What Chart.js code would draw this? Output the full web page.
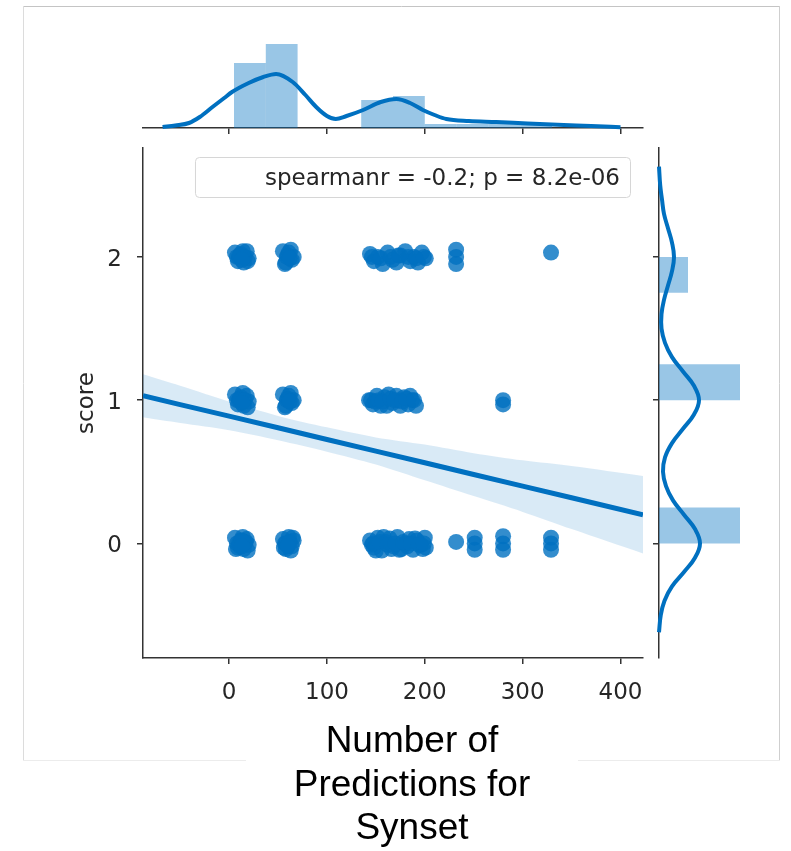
<!DOCTYPE html>
<html>
<head>
<meta charset="utf-8">
<script src="https://cdn.jsdelivr.net/npm/chart.js@4.4.0/dist/chart.umd.min.js"></script>
<style>
    html, body { margin: 0; padding: 0; background: #fff; overflow: hidden; }
    body { width: 791px; height: 851px; position: relative; }
    canvas { position: absolute; top: 0; }
    #mainChart { left: 0; }
    #topChart { left: 0; }
    #rightChart { left: 640px; }
</style>
</head>
<body>
<canvas id="mainChart" width="824" height="851"></canvas>
<canvas id="topChart" width="660" height="134"></canvas>
<canvas id="rightChart" width="151" height="851"></canvas>
<script>
const BLUE = '#0070c0';
const POINT_BLUE = 'rgba(0, 112, 192, 0.8)';
const HIST_BLUE = 'rgba(0, 112, 192, 0.4)';
const BAND_BLUE = 'rgba(0, 112, 192, 0.15)';
const AXIS = '#333333';
const TEXT = '#262626';
const FONT = "'DejaVu Sans', sans-serif";

// axes
const xRange = [-88, 423];
const yRange = [-0.80, 2.76];
const xTicks = [0, 100, 200, 300, 400];
const yTicks = [0, 1, 2];
const yTickLabels = ['0', '1', '2'];
const yTitle = 'score';
const xTitleLines = ['Number of', 'Predictions for', 'Synset'];
const statText = 'spearmanr = -0.2; p = 8.2e-06';

// scatter points (x = number of predictions, y = jittered score)
const score0X = [6, 9, 12, 15, 18, 20, 8, 14, 19, 11, 7, 17, 10, 16, 13, 13,
    55, 58, 61, 64, 66, 57, 63, 60, 56, 65, 58, 62, 60,
    144, 148, 152, 156, 160, 164, 168, 172, 176, 180, 184, 188, 192, 196, 200, 201, 150, 158, 166, 174, 182, 190, 198, 146,
    147, 154, 162, 170, 178, 186, 194, 199,
    232, 251, 251, 251, 280, 280, 280, 329, 329, 329];
const score0Y = [0.04, -0.03, 0.02, -0.04, 0.03, -0.01, 0.00, 0.045, -0.05, -0.02, -0.04, 0.01, 0.0, 0.0, 0.02, -0.02,
    0.03, -0.04, 0.045, -0.02, 0.02, 0.0, -0.05, -0.01, -0.03, 0.04, 0.0, 0.01, -0.02,
    0.02, -0.03, 0.04, -0.05, 0.01, 0.035, -0.02, 0.045, -0.04, 0.0, 0.03, -0.045, 0.02, -0.01, 0.04, -0.03, -0.05, 0.045, -0.04, -0.045, -0.02, 0.035, -0.04, -0.01,
    0.0, 0.01, -0.01, 0.0, 0.01, 0.0, -0.01, 0.0,
    0.01, 0.04, 0.0, -0.045, 0.05, 0.0, -0.045, 0.04, 0.0, -0.045];
const score1X = [6, 9, 12, 15, 18, 20, 8, 14, 19, 11, 10, 16, 13,
    55, 58, 61, 64, 66, 57, 63, 60, 59, 62,
    143, 147, 151, 155, 159, 163, 167, 171, 175, 179, 183, 187, 191, 149, 161, 173, 185,
    145, 153, 157, 165, 169, 177, 181, 189,
    280, 280];
const score1Y = [1.04, 0.97, 1.02, 0.96, 1.03, 0.99, 1.0, 1.05, 0.95, 1.01, 1.0, 1.0, 0.98,
    1.04, 0.96, 1.03, 0.98, 1.0, 0.95, 1.05, 1.01, 1.0, 0.99,
    1.0, 0.97, 1.03, 0.96, 1.02, 1.04, 0.98, 1.03, 0.96, 1.02, 0.97, 1.0, 0.96, 0.99, 0.96, 1.0, 1.03,
    1.0, 1.0, 0.99, 1.01, 1.0, 0.99, 1.01, 1.0,
    1.0, 0.97];
const score2X = [6, 9, 12, 15, 18, 20, 8, 14, 19, 11, 10, 16, 13,
    55, 58, 61, 64, 66, 57, 63, 60, 59, 62,
    144, 148, 152, 157, 162, 167, 171, 175, 180, 185, 189, 193, 197, 201,
    146, 155, 165, 173, 183, 191, 199,
    232, 232, 232, 329];
const score2Y = [2.03, 1.97, 2.02, 1.96, 2.04, 1.99, 2.0, 2.04, 1.97, 2.01, 2.0, 2.0, 1.98,
    2.04, 1.96, 2.03, 1.98, 2.0, 1.95, 2.05, 2.01, 2.0, 1.99,
    2.02, 1.97, 2.0, 1.95, 2.03, 1.98, 1.96, 2.01, 2.04, 1.97, 2.0, 1.96, 2.03, 1.99,
    2.0, 1.99, 2.0, 2.01, 2.0, 1.99, 2.0,
    2.05, 2.0, 1.95, 2.03];

// regression line and its confidence band
const regX = [-88, -50, 0, 50, 100, 150, 200, 250, 300, 350, 423];
const regY = [1.031, 0.969, 0.888, 0.807, 0.725, 0.644, 0.563, 0.481, 0.400, 0.319, 0.200];
const ciUpper = [1.18, 1.10, 0.99, 0.89, 0.81, 0.74, 0.69, 0.63, 0.58, 0.54, 0.47];
const ciLower = [0.88, 0.84, 0.79, 0.72, 0.64, 0.55, 0.44, 0.33, 0.22, 0.10, -0.07];

// top marginal: histogram + kde of x
const topBinCenters = [21.25, 53.75, 86.25, 118.75, 151.25, 183.75, 216.25, 248.75, 281.25, 313.75];
const topBinHeights = [65, 84, 0, 0, 28, 32, 4, 4, 4, 4];
const topKdeX = [-68, -55, -41, -30, -17, -5, 3, 20, 35, 48, 65, 78, 89, 100, 109, 120, 137, 155, 171, 185, 198, 210, 222, 245, 273, 305, 342, 370, 400];
const topKdeY = [1, 2.5, 5, 11, 21, 30, 36, 45, 51, 54, 46, 33, 21, 12, 9, 12, 18, 26, 29, 25, 18, 13, 9, 7, 6, 4.5, 3, 2, 0.7];

// right marginal: histogram + kde of score
const rightBinCenters = [0.125, 0.375, 0.625, 0.875, 1.125, 1.375, 1.625, 1.875];
const rightBinWidths = [81, 0, 0, 0, 81, 0, 0, 29];
const rightKdeScore = [-0.62, -0.5, -0.4, -0.3, -0.2, -0.1, 0, 0.1, 0.2, 0.3, 0.4, 0.5, 0.6, 0.7, 0.8, 0.9, 1.0, 1.1, 1.2, 1.3, 1.4, 1.5, 1.6, 1.7, 1.8, 1.9, 2.0, 2.1, 2.2, 2.3, 2.4, 2.5, 2.63];
const rightKdeWidth = [0, 1.8, 5.5, 13, 25, 36, 41, 36, 25, 14, 7, 4, 6, 13, 24, 35, 40, 35, 24, 13, 6, 2.5, 2.5, 5, 9, 13, 15, 13, 9, 5, 3, 1.2, 0];

const pts = (xs, ys) => xs.map((x, i) => ({x: x, y: ys[i]}));
const fixedTicks = values => scale => { scale.ticks = values.map(v => ({value: v})); };

const tickGrid = {display: true, drawOnChartArea: false, drawTicks: true, tickLength: 6, color: AXIS, lineWidth: 1.5, offset: false};
const spine = {display: true, color: AXIS, width: 1.5};

// light frame round the figure, open where the x title sits
const framePlugin = {
    id: 'frame',
    beforeDraw(chart) {
        const ctx = chart.ctx;
        ctx.save();
        ctx.lineWidth = 1;
        const seg = (color, x1, y1, x2, y2) => {
            ctx.strokeStyle = color;
            ctx.beginPath(); ctx.moveTo(x1, y1); ctx.lineTo(x2, y2); ctx.stroke();
        };
        seg('#c4c4c4', 23, 6.5, 780, 6.5);
        seg('#dcdcdc', 23.5, 6, 23.5, 761);
        seg('#cfcfcf', 779.5, 6, 779.5, 761);
        seg('#ececec', 23, 760.5, 246, 760.5);
        seg('#ececec', 578, 760.5, 780, 760.5);
        ctx.restore();
    }
};

// stats annotation box in the upper right of the joint axes
const statBoxPlugin = {
    id: 'statBox',
    afterDatasetsDraw(chart) {
        const {ctx, chartArea} = chart;
        ctx.save();
        ctx.font = '23px ' + FONT;
        const textW = ctx.measureText(statText).width;
        const right = chartArea.right - 13;
        const top = chartArea.top + 9;
        const textRight = right - 10;
        const left = textRight - textW - 70;
        ctx.beginPath();
        ctx.roundRect(left + 0.5, top + 0.5, right - left, 40, 4);
        ctx.fillStyle = 'rgba(255, 255, 255, 0.8)';
        ctx.fill();
        ctx.strokeStyle = '#d6d6d6';
        ctx.lineWidth = 1;
        ctx.stroke();
        ctx.fillStyle = TEXT;
        ctx.textAlign = 'right';
        ctx.textBaseline = 'alphabetic';
        ctx.fillText(statText, textRight, top + 28);
        ctx.restore();
    }
};

const scatterSet = (xs, ys) => ({
    type: 'scatter',
    data: pts(xs, ys),
    backgroundColor: POINT_BLUE,
    borderColor: POINT_BLUE,
    borderWidth: 0,
    pointRadius: 8,
    order: 1
});

new Chart(document.getElementById('mainChart'), {
    type: 'scatter',
    data: {
        datasets: [
            {type: 'line', data: pts(regX, ciUpper), borderColor: 'rgba(0,0,0,0)', borderWidth: 0, pointRadius: 0, fill: false, tension: 0.3, order: 5},
            {type: 'line', data: pts(regX, ciLower), borderColor: 'rgba(0,0,0,0)', borderWidth: 0, pointRadius: 0, fill: '-1', backgroundColor: BAND_BLUE, tension: 0.3, order: 4},
            {type: 'line', data: pts(regX, regY), borderColor: BLUE, borderWidth: 5, pointRadius: 0, fill: false, tension: 0, order: 3},
            scatterSet(score0X, score0Y),
            scatterSet(score1X, score1Y),
            scatterSet(score2X, score2Y)
        ]
    },
    options: {
        responsive: false,
        animation: false,
        events: [],
        devicePixelRatio: 1,
        layout: {padding: {top: 148, left: 0, right: 0, bottom: 0}},
        plugins: {
            legend: {display: false},
            tooltip: {enabled: false},
            title: {
                display: true,
                position: 'bottom',
                fullSize: true,
                align: 'center',
                text: xTitleLines,
                color: '#000',
                font: {family: "'Liberation Sans', Arial, sans-serif", size: 37, weight: 'normal', lineHeight: 43.5 / 37},
                padding: {top: 0, bottom: 0}
            }
        },
        scales: {
            x: {
                type: 'linear', min: xRange[0], max: xRange[1], offset: false,
                afterBuildTicks: fixedTicks(xTicks),
                afterFit: s => { s.height = 62.5; },
                grid: tickGrid,
                border: spine,
                ticks: {color: TEXT, font: {family: FONT, size: 23}, padding: 15, maxRotation: 0}
            },
            y: {
                type: 'linear', position: 'left', min: yRange[0], max: yRange[1],
                afterBuildTicks: fixedTicks(yTicks),
                afterFit: s => { s.width = 143; },
                grid: tickGrid,
                border: spine,
                ticks: {color: TEXT, font: {family: FONT, size: 23}, padding: 15, labelOffset: 3,
                    callback: (v, i) => yTickLabels[i]},
                title: {display: true, text: yTitle, color: TEXT, font: {family: FONT, size: 23}, padding: {top: 73, bottom: 0}}
            },
            pad: {
                type: 'linear', position: 'right', display: true,
                grid: {display: false}, border: {display: false}, ticks: {display: false},
                afterFit: s => { s.width = 181; }
            }
        }
    },
    plugins: [framePlugin, statBoxPlugin]
});

new Chart(document.getElementById('topChart'), {
    type: 'scatter',
    data: {
        datasets: [
            {type: 'line', data: pts(topKdeX, topKdeY), borderColor: BLUE, borderWidth: 4, pointRadius: 0,
                tension: 0.4, cubicInterpolationMode: 'monotone', fill: false, clip: false, order: 0},
            {type: 'bar', data: pts(topBinCenters, topBinHeights), backgroundColor: HIST_BLUE, borderWidth: 0,
                inflateAmount: 0, barPercentage: 1, categoryPercentage: 1, order: 1}
        ]
    },
    options: {
        responsive: false,
        animation: false,
        events: [],
        devicePixelRatio: 1,
        layout: {padding: {left: 143, right: 17, top: 28, bottom: 0}},
        plugins: {legend: {display: false}, tooltip: {enabled: false}},
        scales: {
            x: {
                type: 'linear', min: xRange[0], max: xRange[1], offset: false,
                afterBuildTicks: fixedTicks(xTicks),
                grid: tickGrid,
                border: spine,
                ticks: {display: false}
            },
            y: {display: false, min: 0, max: 100}
        }
    }
});

new Chart(document.getElementById('rightChart'), {
    type: 'scatter',
    data: {
        datasets: [
            {type: 'line', indexAxis: 'y', data: pts(rightKdeWidth, rightKdeScore), borderColor: BLUE, borderWidth: 4,
                pointRadius: 0, tension: 0.4, fill: false, clip: false, order: 0},
            {type: 'bar', indexAxis: 'y', data: pts(rightBinWidths, rightBinCenters), backgroundColor: HIST_BLUE,
                borderWidth: 0, inflateAmount: 0, barPercentage: 1, categoryPercentage: 1, order: 1}
        ]
    },
    options: {
        indexAxis: 'y',
        responsive: false,
        animation: false,
        events: [],
        devicePixelRatio: 1,
        layout: {padding: {left: 13, right: 31, top: 148, bottom: 193}},
        plugins: {legend: {display: false}, tooltip: {enabled: false}},
        scales: {
            x: {type: 'linear', display: false, min: 0, max: 101},
            y: {
                type: 'linear', position: 'left', min: yRange[0], max: yRange[1], offset: false,
                afterBuildTicks: fixedTicks(yTicks),
                grid: tickGrid,
                border: spine,
                ticks: {display: false}
            }
        }
    }
});
</script>
</body>
</html>
